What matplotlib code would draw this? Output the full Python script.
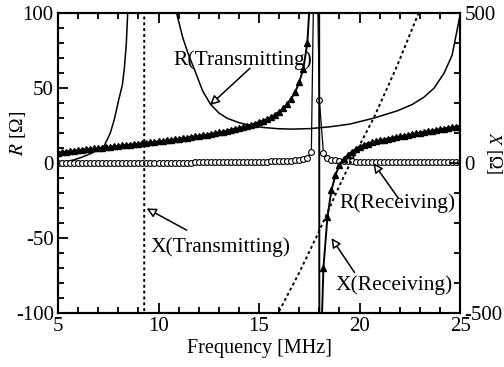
import numpy as np
import matplotlib
matplotlib.use("Agg")
import matplotlib.pyplot as plt

plt.rcParams['font.family'] = ['Liberation Serif', 'DejaVu Serif']
plt.rcParams['mathtext.fontset'] = 'stix'
plt.rcParams['axes.unicode_minus'] = False

# receiving antenna, sampled every 0.2 MHz from 5 to 25 MHz
freq_rx = np.linspace(5.0, 25.0, 101)

# R(Receiving) [ohm], left axis
r_rx = [0.0, 0.0, 0.0, 0.0, 0.0, 0.0, 0.0, 0.0, 0.1, 0.1,
        0.1, 0.1, 0.1, 0.1, 0.1, 0.1, 0.2, 0.2, 0.2, 0.2,
        0.2, 0.2, 0.2, 0.3, 0.3, 0.3, 0.3, 0.3, 0.3, 0.4,
        0.4, 0.4, 0.4, 0.4, 0.5, 0.5, 0.5, 0.5, 0.5, 0.6,
        0.6, 0.6, 0.6, 0.7, 0.7, 0.7, 0.8, 0.8, 0.8, 0.9,
        0.9, 1.0, 1.0, 1.1, 1.1, 1.2, 1.3, 1.4, 1.6, 1.8,
        2.1, 2.7, 3.6, 7.5, 200.0, 42.0, 7.0, 3.5, 2.4, 1.8,
        1.5, 1.3, 1.2, 1.1, 1.0, 1.0, 0.9, 0.9, 0.9, 0.9,
        0.9, 0.9, 0.9, 0.9, 0.9, 0.9, 0.9, 0.9, 0.9, 0.9,
        0.9, 0.9, 0.9, 0.9, 0.9, 0.9, 0.9, 0.9, 0.9, 0.9,
        0.9]

# X(Receiving) [ohm], right axis
x_rx = [35, 37, 38.5, 40, 41.5, 43, 44.5, 46, 47.5, 49,
        50, 51.5, 53, 54.5, 56, 57.5, 59, 60.5, 62, 63.5,
        65, 66.5, 68, 69.5, 71, 72.5, 74, 75.5, 77, 79,
        81, 83, 85, 87, 89, 91, 93, 95, 97.5, 100,
        102.5, 105, 108, 111, 114, 117, 120, 123.5, 127.5, 132,
        136.5, 141.5, 147, 154, 162, 171.5, 183, 197, 215, 237.5,
        270, 315, 400, 625, 25000, -800, -350, -180, -90, -40,
        -5, 12.5, 27.5, 37.5, 46.5, 54, 61, 65, 69, 72.5,
        75.5, 78.5, 81.5, 84, 86.5, 89, 91.5, 94, 96.5, 99,
        101.5, 104, 106.5, 108.5, 110.5, 113, 115, 117.5, 119.5, 121.5,
        123.5]

# transmitting antenna
freq_rtx = [5.0, 5.4, 5.8, 6.2, 6.6, 7.0, 7.3, 7.6, 7.8, 8.0,
            8.2, 8.3, 8.4, 8.5, 8.7, 9.0, 9.8, 10.5, 10.9, 11.2,
            11.5, 11.8, 12.2, 12.6, 13.0, 13.4, 14.0, 14.6, 15.2, 15.9,
            16.6, 17.5, 18.5, 19.5, 20.7, 21.9, 22.6, 23.2, 23.7, 24.2,
            24.6, 25.0]
r_tx = [0.3, 1.0, 2.2, 4.0, 6.2, 8.8, 11.5, 20.0, 29.0, 41.0,
        52.0, 63.0, 80.0, 110.0, 180.0, 400.0, 2000.0, 300.0, 100.0, 84.0,
        72.0, 62.0, 48.0, 39.0, 33.5, 30.0, 27.0, 25.0, 23.8, 23.0,
        22.7, 23.0, 24.2, 26.0, 30.0, 35.0, 39.0, 44.0, 50.0, 60.0,
        72.0, 99.0]

freq_xtx = [5.0, 7.0, 8.5, 9.2, 9.28, 9.30, 9.4, 11.0, 13.0, 15.0,
            15.95, 17.0, 18.0, 19.0, 19.5, 20.0, 20.7, 21.85, 22.93, 24.0,
            25.0]
x_tx = [1500, 2500, 6000, 30000, 200000, -200000, -30000, -4000, -1500, -800,
        -500, -365, -225, -75, -5, 60, 150, 322, 500, 700,
        950]

fig = plt.figure(figsize=(5.04, 3.67), dpi=100)
ax = fig.add_axes([0.115, 0.147, 0.798, 0.817])
ax2 = ax.twinx()

ax.plot(freq_rtx, r_tx, color='black', lw=1.1)
ax.plot(freq_rx, r_rx, color='black', lw=0.9, marker='o', ms=4.2,
        mfc='white', mec='black', mew=0.8)
ax2.plot(freq_xtx, x_tx, color='black', lw=1.4, linestyle=(0, (1.5, 1.5)))
ax2.plot(freq_rx, x_rx, color='black', lw=1.4, marker='^', ms=4.5,
         mfc='black', mec='black')

ax.set_xlim(5, 25)
ax.set_ylim(-100, 100)
ax2.set_ylim(-500, 500)

ax.set_xticks([5, 10, 15, 20, 25])
ax.set_xticks(np.arange(5, 26, 1), minor=True)
ax.set_yticks([-100, -50, 0, 50, 100])
ax.set_yticks(np.arange(-100, 101, 10), minor=True)
ax2.set_yticks([-500, 0, 500])
ax2.set_yticks(np.arange(-500, 501, 100), minor=True)

for a in (ax, ax2):
    for side in a.spines.values():
        side.set_linewidth(1.5)
ax.tick_params(which='both', direction='in', top=True, labelsize=15, width=1.3, pad=3)
ax.tick_params(which='major', length=7)
ax.tick_params(which='minor', length=4.5)
ax2.tick_params(which='both', direction='in', labelsize=15, width=1.3, pad=3)
ax2.tick_params(which='major', length=7)
ax2.tick_params(which='minor', length=4.5)

ax.set_xlabel('Frequency [MHz]', fontsize=14.5, labelpad=2)
ax.set_ylabel('$R$ [Ω]', fontsize=14, va='center')
ax.yaxis.set_label_coords(-0.1, 0.6)
ax2.set_ylabel('$X$ [Ω]', fontsize=13, rotation=270, va='center')
ax2.yaxis.set_label_coords(1.085, 0.535)

arrow = dict(arrowstyle='-|>', color='black', lw=1.1, fc='white',
             mutation_scale=14, shrinkA=0, shrinkB=0)
ax.text(14.2, 68.5, 'R(Transmitting)', fontsize=15.5, ha='center', va='center')
ax.annotate('', xy=(12.56, 38.7), xytext=(14.55, 63.3), arrowprops=arrow)
ax.text(13.1, -55.8, 'X(Transmitting)', fontsize=15.5, ha='center', va='center')
ax.annotate('', xy=(9.41, -30.2), xytext=(11.4, -44.7), arrowprops=arrow)
ax.text(21.9, -26.9, 'R(Receiving)', fontsize=15.5, ha='center', va='center')
ax.annotate('', xy=(20.69, 0.0), xytext=(21.93, -23.5), arrowprops=arrow)
ax.text(21.7, -81.3, 'X(Receiving)', fontsize=15.5, ha='center', va='center')
ax.annotate('', xy=(18.6, -50.0), xytext=(19.75, -73.0), arrowprops=arrow)

fig.savefig('out.png', dpi=100)
